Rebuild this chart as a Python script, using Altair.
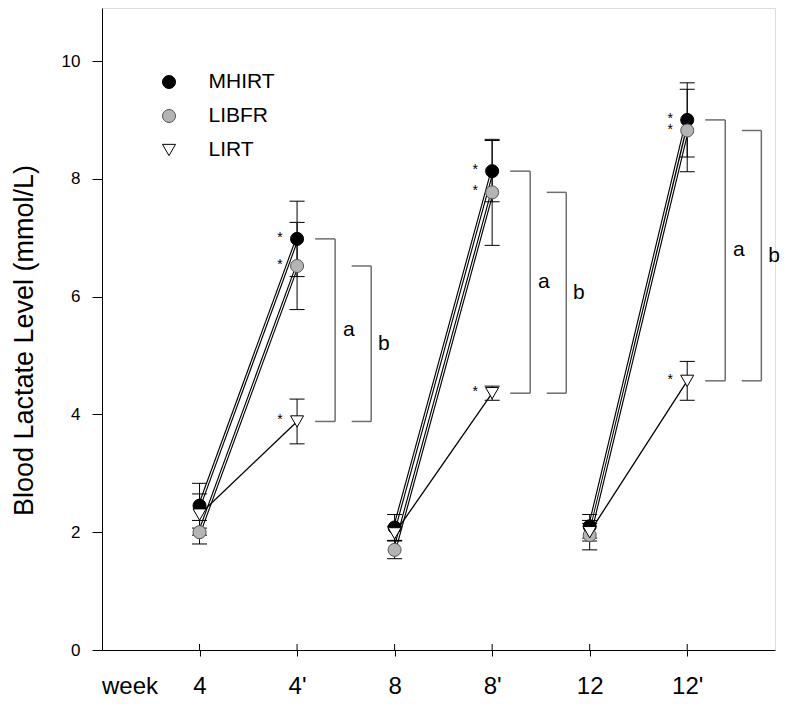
import json
import altair as alt
import pandas as pd

# ---------------- data ----------------
week_labels = ["4", "4'", "8", "8'", "12", "12'"]
week_pos = [1, 2, 3, 4, 5, 6]
groups = ["MHIRT", "LIBFR", "LIRT"]

mhirt_mean = [2.45, 6.98, 2.08, 8.13, 2.10, 9.00]
mhirt_err = [0.38, 0.64, 0.22, 0.52, 0.20, 0.63]
libfr_mean = [2.00, 6.52, 1.70, 7.77, 1.95, 8.82]
libfr_err = [0.20, 0.74, 0.15, 0.90, 0.25, 0.70]
lirt_mean = [2.30, 3.88, 1.98, 4.36, 2.00, 4.57]
lirt_err = [0.35, 0.38, 0.12, 0.12, 0.15, 0.33]

fill_colors = ["black", "#b4b4b4", "white"]
stroke_colors = ["black", "#555555", "black"]
shapes = ["circle", "circle", "triangle-down"]

FONT = "Liberation Sans, Arial, Helvetica, sans-serif"
W, H = 673, 642

rows = []
for g, means, errs in zip(groups, [mhirt_mean, libfr_mean, lirt_mean],
                          [mhirt_err, libfr_err, lirt_err]):
    for i, (p, lab, m, e) in enumerate(zip(week_pos, week_labels, means, errs)):
        rows.append(dict(group=g, x=p, label=lab, mean=m, lo=m - e, hi=m + e,
                         pair=f"{g}-{i // 2}", prime=(i % 2 == 1)))
df = pd.DataFrame(rows)

# brackets: a = MHIRT vs LIRT, b = LIBFR vs LIRT at each post-exercise point
brk = []
for k in [1, 3, 5]:
    x = week_pos[k]
    brk.append(dict(lab="a", top=mhirt_mean[k], bot=lirt_mean[k],
                    x0=x + 0.185, x1=x + 0.39, lx=x + 0.53))
    brk.append(dict(lab="b", top=libfr_mean[k], bot=lirt_mean[k],
                    x0=x + 0.56, x1=x + 0.76, lx=x + 0.89))
bdf = pd.DataFrame(brk)
bdf["mid"] = (bdf["top"] + bdf["bot"]) / 2

tick_df = pd.DataFrame({"x": week_pos})

# ---------------- scales / encodings ----------------
xs = alt.Scale(domain=[0, 6.9], nice=False, zero=False)
ys = alt.Scale(domain=[0, 10.9], nice=False, zero=False)

label_arr = json.dumps([""] + week_labels)
x_axis = alt.Axis(values=week_pos, labelExpr=f"{label_arr}[datum.value]",
                  title=None, grid=False, domainColor="black", domainWidth=1,
                  tickColor="black", tickSize=6, tickWidth=1,
                  labelFontSize=24, labelColor="black", labelPadding=18,
                  labelFont=FONT, labelFlush=False)
y_axis = alt.Axis(values=[0, 2, 4, 6, 8, 10], format="d", grid=False,
                  title="Blood Lactate Level  (mmol/L)",
                  titleFontSize=27, titleFontWeight="normal", titleFont=FONT,
                  titleColor="black", titleX=-78, titleY=332,
                  titleAlign="center", titleBaseline="middle", titleAngle=-90,
                  domainColor="black", domainWidth=1, tickColor="black",
                  tickSize=10, tickWidth=1, labelFontSize=17, labelFont=FONT,
                  labelColor="black", labelPadding=12)

x_enc = alt.X("x:Q", scale=xs, axis=x_axis)
y_mean = alt.Y("mean:Q", scale=ys, axis=y_axis)

base = alt.Chart(df)

# connecting lines
line_base = base.encode(x=x_enc, y=y_mean, detail="pair:N")
heavy = line_base.mark_line(color="black", strokeWidth=3.4).transform_filter(
    "datum.group != 'LIRT'")
inner = line_base.mark_line(color="white", strokeWidth=1.1).transform_filter(
    "datum.group != 'LIRT'")
thin = line_base.mark_line(color="black", strokeWidth=1.3).transform_filter(
    "datum.group == 'LIRT'")

# error bars
err_rule = base.mark_rule(color="black", strokeWidth=1).encode(
    x=x_enc, y=alt.Y("lo:Q", scale=ys), y2="hi:Q")
caps = base.transform_calculate(xa="datum.x - 0.077", xb="datum.x + 0.077")
cap_hi = caps.mark_rule(color="black", strokeWidth=1).encode(
    x=alt.X("xa:Q", scale=xs), x2="xb:Q", y=alt.Y("hi:Q", scale=ys))
cap_lo = caps.mark_rule(color="black", strokeWidth=1).encode(
    x=alt.X("xa:Q", scale=xs), x2="xb:Q", y=alt.Y("lo:Q", scale=ys))

# points with legend
legend = alt.Legend(title=None, orient="none", legendX=56.5, legendY=63.5,
                    labelFontSize=21, labelFont=FONT, labelColor="black",
                    symbolSize=170, symbolStrokeWidth=1, labelOffset=29,
                    rowPadding=12, padding=0)
points = base.mark_point(size=170, strokeWidth=1, opacity=1, fillOpacity=1).encode(
    x=x_enc, y=y_mean,
    fill=alt.Fill("group:N", scale=alt.Scale(domain=groups, range=fill_colors), legend=legend),
    stroke=alt.Stroke("group:N", scale=alt.Scale(domain=groups, range=stroke_colors), legend=legend),
    shape=alt.Shape("group:N", scale=alt.Scale(domain=groups, range=shapes), legend=legend),
)

# asterisks
stars = base.transform_filter("datum.prime").mark_text(
    text="*", dx=-17, dy=-1, fontSize=14, font=FONT, color="black").encode(x=x_enc, y=y_mean)

# brackets
bb = alt.Chart(bdf)
b_top = bb.mark_rule(color="#6e6e6e", strokeWidth=1.5).encode(
    x=alt.X("x0:Q", scale=xs), x2="x1:Q", y=alt.Y("top:Q", scale=ys))
b_bot = bb.mark_rule(color="#6e6e6e", strokeWidth=1.5).encode(
    x=alt.X("x0:Q", scale=xs), x2="x1:Q", y=alt.Y("bot:Q", scale=ys))
b_vert = bb.mark_rule(color="#6e6e6e", strokeWidth=1.5).encode(
    x=alt.X("x1:Q", scale=xs), y=alt.Y("top:Q", scale=ys), y2="bot:Q")
b_lab = bb.mark_text(fontSize=21, font=FONT, color="black", baseline="middle").encode(
    x=alt.X("lx:Q", scale=xs), y=alt.Y("mid:Q", scale=ys), text="lab:N")

# upward half of x ticks
up_ticks = alt.Chart(tick_df).mark_rule(color="black", strokeWidth=1).encode(
    x=alt.X("x:Q", scale=xs), y=alt.value(H - 6), y2=alt.value(H))

# "week" label
week_txt = alt.Chart(pd.DataFrame({"t": ["week"]})).mark_text(
    fontSize=24, font=FONT, color="black", baseline="middle").encode(
    text="t:N", x=alt.value(28), y=alt.value(H + 37))

chart = alt.layer(
    heavy, inner, thin, err_rule, cap_hi, cap_lo, points, stars,
    b_top, b_bot, b_vert, b_lab, up_ticks, week_txt
).properties(
    width=W, height=H,
    autosize=alt.AutoSizeParams(type="none"),
    padding={"left": 94, "top": 0, "right": 8, "bottom": 50},
).configure_view(stroke=None).configure(background="white")

chart.save("out.html", embed_options={"renderer": "svg", "actions": False})
